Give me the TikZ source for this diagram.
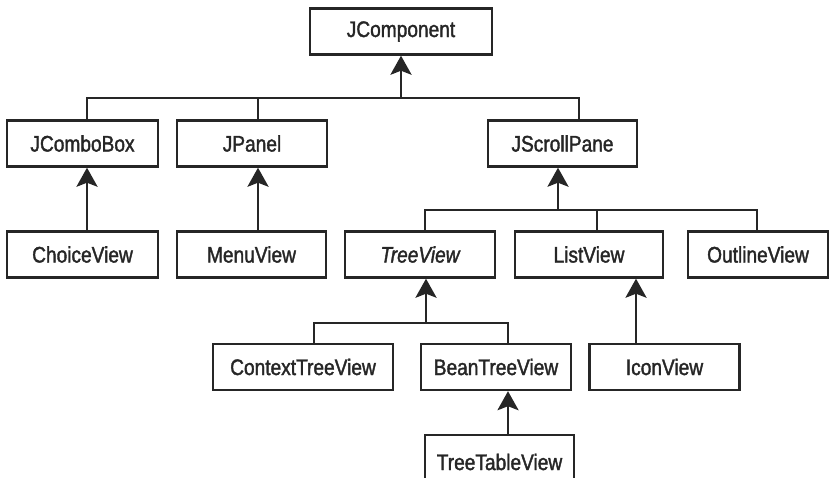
\documentclass[tikz,border=0pt]{standalone}
\usepackage{fontspec}
\setmainfont[FakeStretch=0.85,FakeBold=1.6]{Liberation Sans}
\usetikzlibrary{arrows.meta}
\begin{document}
\begin{tikzpicture}[x=1pt,y=-1pt,
  box/.style={draw=black!85, line width=2.4pt, rectangle, inner sep=0pt,
    minimum height=46pt, font=\fontsize{22.5}{25}\selectfont, text=black!85},
  conn/.style={draw=black!85, line width=2.8pt},
  arr/.style={conn, -{Stealth[length=19pt,width=21pt,inset=4pt]}}]
\useasboundingbox (0,0) rectangle (829,478);
\clip (0,0) rectangle (829,478);
% row 1
\node[box, minimum width=182] (jcomp) at (401,31.5) {JComponent};
% row 2
\node[box, minimum width=151] (jcombo) at (82.5,143.5) {JComboBox};
\node[box, minimum width=150] (jpanel) at (252,143.5) {JPanel};
\node[box, minimum width=149] (jscroll) at (562.5,143.5) {JScrollPane};
% row 3
\node[box, minimum width=151] (choice) at (82.5,254.5) {ChoiceView};
\node[box, minimum width=149] (menu) at (251.5,254.5) {MenuView};
\node[box, minimum width=150] (tree) at (420,254.5) {\itshape TreeView};
\node[box, minimum width=148] (list) at (589,254.5) {ListView};
\node[box, minimum width=140] (outline) at (758,254.5) {OutlineView};
% row 4
\node[box, minimum width=180] (context) at (303,367) {ContextTreeView};
\node[box, minimum width=150] (bean) at (496,367) {BeanTreeView};
\node[box, minimum width=150] (icon) at (664.5,367) {IconView};
% row 5
\node[box, minimum width=149, minimum height=54] (ttv) at (499.5,462) {TreeTableView};
% junctions
\coordinate (b1) at (401,98);
\coordinate (b2) at (558,210);
\coordinate (b3) at (426,323);
% connectors
\draw[conn] ([xshift=4.5pt]jcombo.north) |- (b1) -| ([xshift=16.5pt]jscroll.north);
\draw[conn] ([xshift=6pt]jpanel.north) -- ([xshift=6pt]jpanel.north |- b1);
\draw[arr] (b1) -- (jcomp.south);
\draw[arr] ([xshift=4.5pt]choice.north) -- ([xshift=4.5pt]jcombo.south);
\draw[arr] ([xshift=6.5pt]menu.north) -- ([xshift=6pt]jpanel.south);
\draw[conn] ([xshift=5pt]tree.north) |- (b2) -| ([xshift=-1pt]outline.north);
\draw[conn] ([xshift=8pt]list.north) -- ([xshift=8pt]list.north |- b2);
\draw[arr] (b2) -- (b2 |- jscroll.south);
\draw[conn] ([xshift=11pt]context.north) |- (b3) -| ([xshift=12pt]bean.north);
\draw[arr] (b3) -- (b3 |- tree.south);
\draw[arr] ([xshift=-28.5pt]icon.north) -- ([xshift=-28.5pt]icon.north |- list.south);
\draw[arr] ([xshift=8.5pt]ttv.north) -- ([xshift=12pt]bean.south);
\end{tikzpicture}
\end{document}
